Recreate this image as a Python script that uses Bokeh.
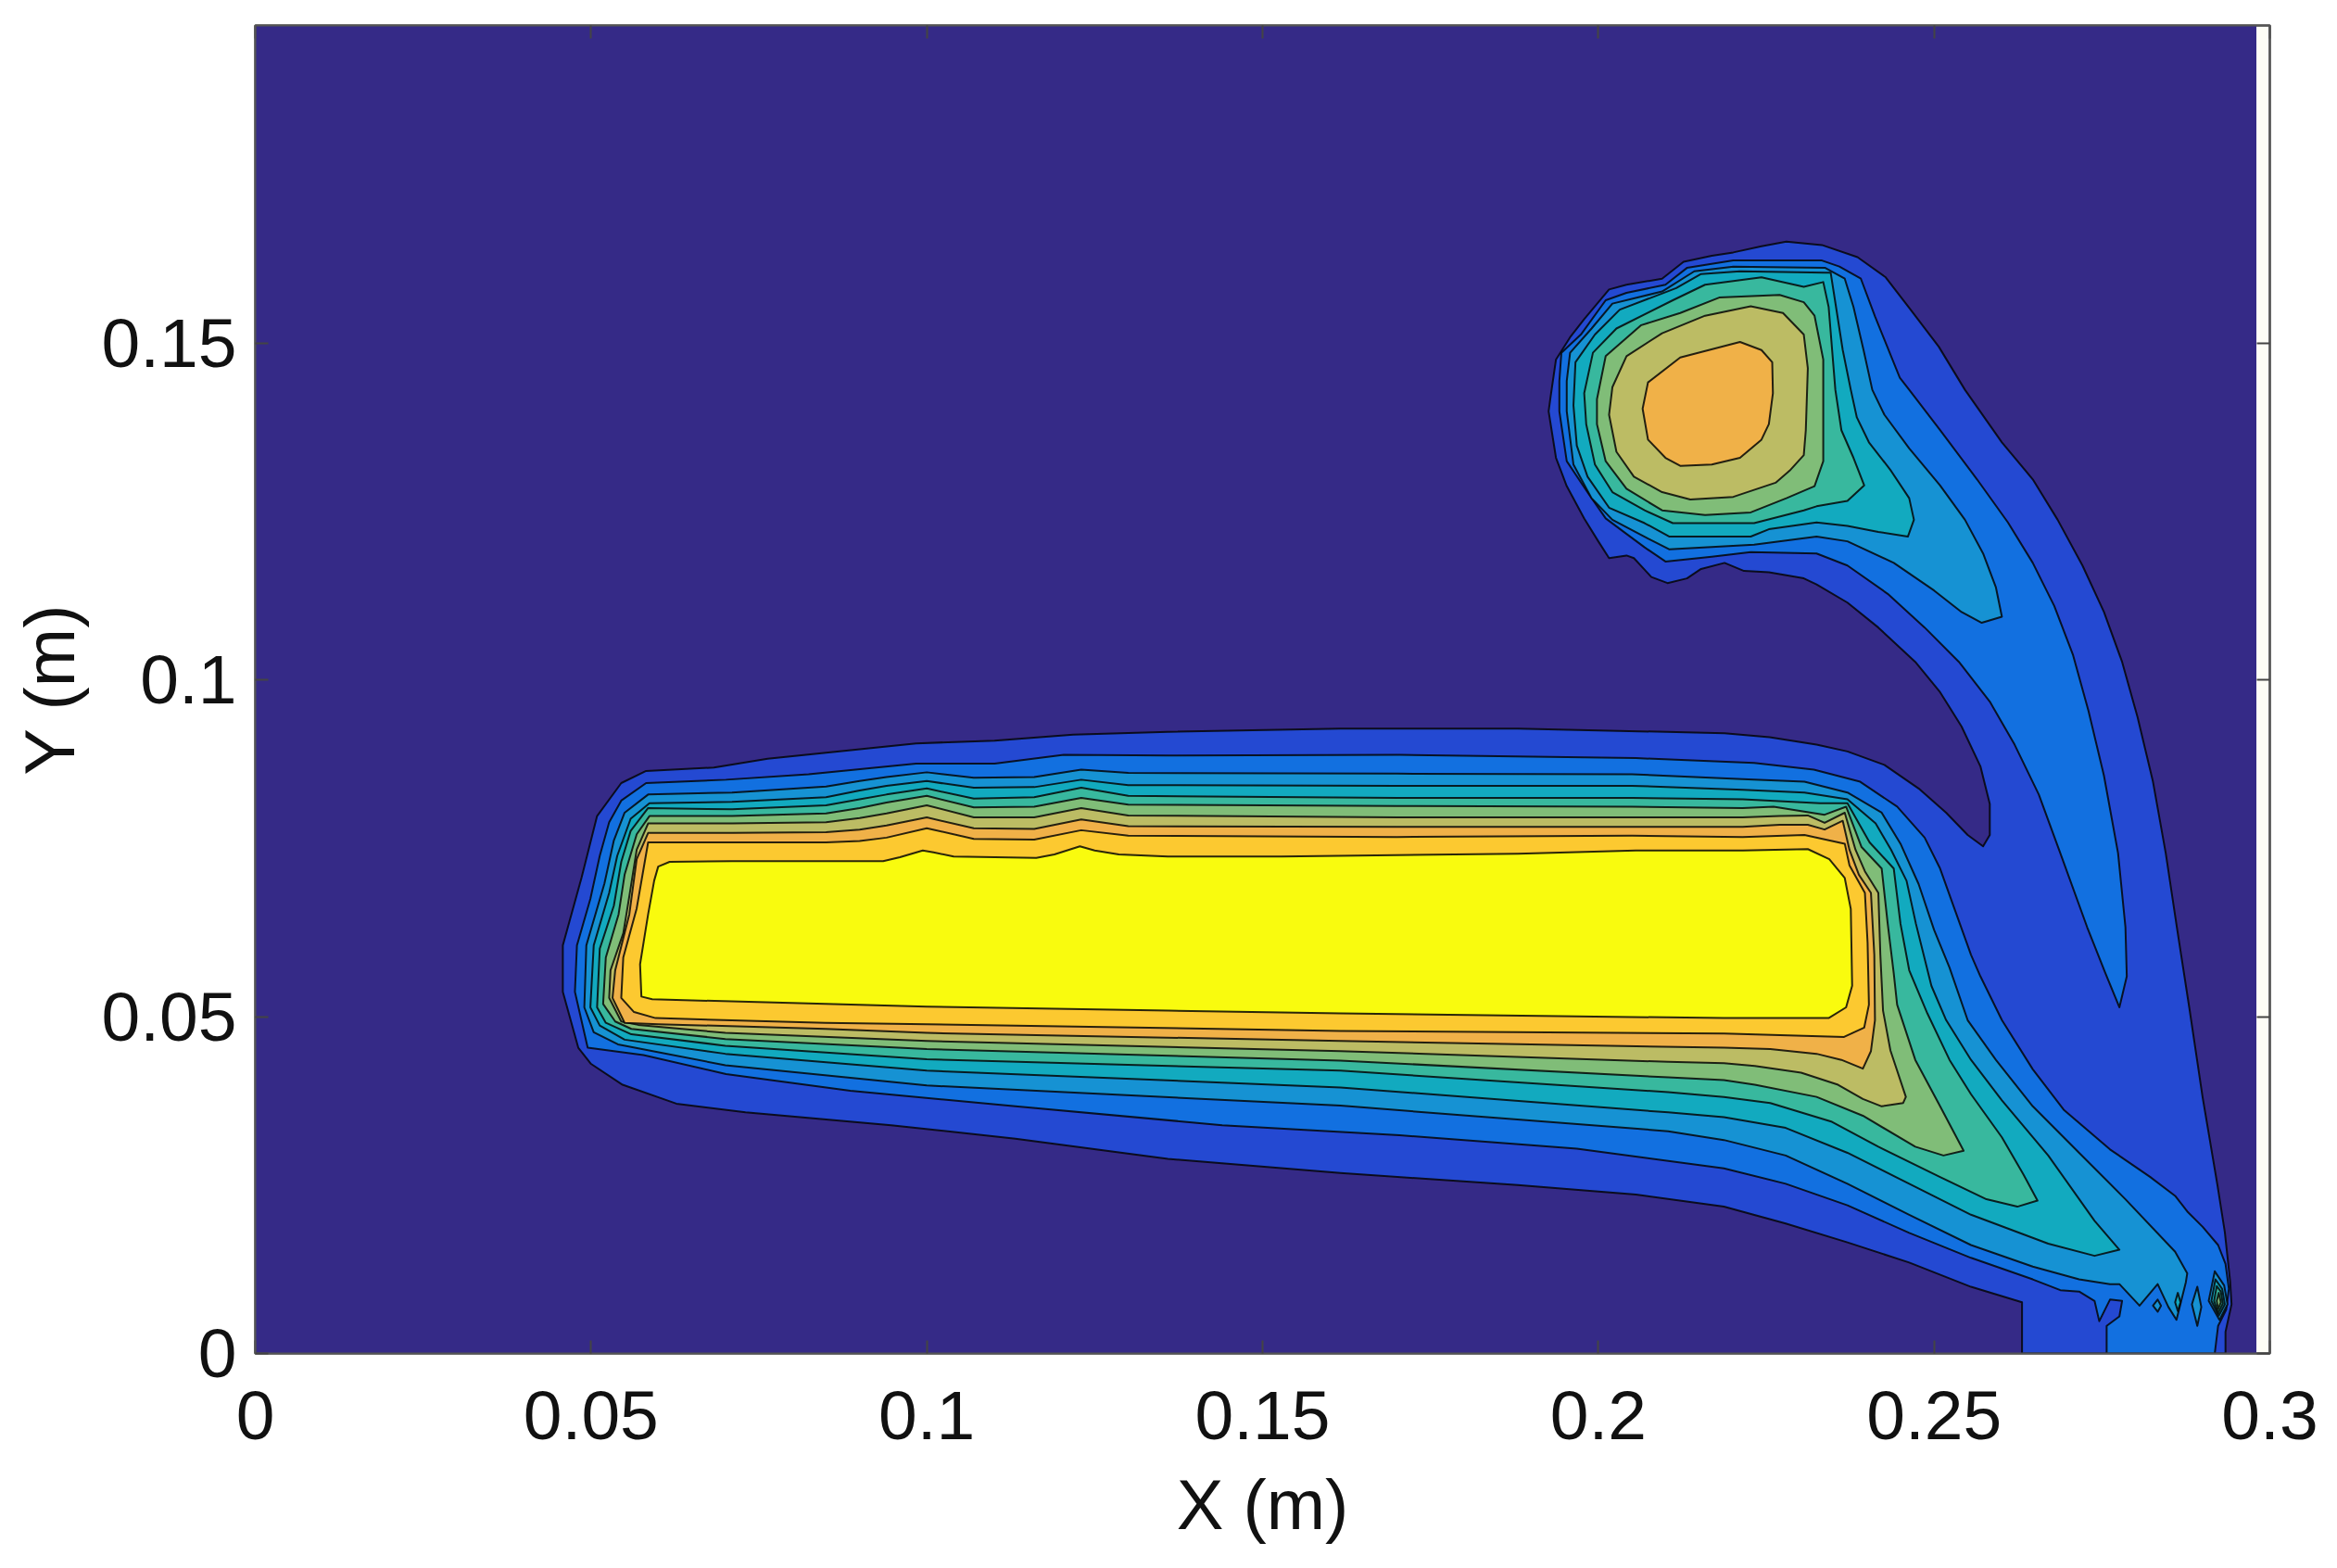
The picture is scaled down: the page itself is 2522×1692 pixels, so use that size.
from bokeh.plotting import figure
from bokeh.models import LinearAxis, FixedTicker, ColumnDataSource, Range1d
from bokeh.embed import file_html
from bokeh.resources import INLINE

# Contours in mm (x, y)
c1 = [(263.1,0),(263.1,7.6),(255.5,9.9),(246.3,13.5),(237.1,16.5),(227.9,19.3),(218.7,21.8),(205.6,23.6),(188,25),(161.6,26.8),(135.9,28.9),(113.2,31.9),(94.7,33.9),(73,35.8),(62.7,37.1),(54.7,39.9),(50,43),(48.1,45.4),(45.8,53.7),(45.8,60.6),(48.6,70.7),(50.9,79.8),(54.5,84.7),(58.2,86.5),(68.3,87),(76.3,88.3),(98.4,90.6),(110.1,91),(121.8,91.9),(135.9,92.3),(161.6,92.8),(188,92.8),(218.8,92.1),(225.5,91.5),(232.5,90.4),(237.1,89.4),(242.6,87.4),(247.7,83.9),(251.8,80.3),(255,77),(257.3,75.3),(258.3,77),(258.3,81.6),(256.9,87.2),(254.1,93.1),(250.9,98.2),(247.2,102.7),(241.7,107.8),(237.1,111.5),(232.5,114.2),(230.6,115.1),(225.4,116),(221.7,116.2),(218.8,117.4),(215.3,116.5),(213.2,115.1),(210.3,114.4),(207.9,115.3),(205.3,118.1),(204.2,118.5),(201.6,118.1),(200,120.6),(197.9,124),(195.3,128.8),(193.7,133),(192.6,139.9),(192.9,142.1),(193.7,147.6),(195.8,150.9),(197.9,153.6),(201.6,158),(204.2,158.7),(209.5,159.6),(212.7,162.1),(216.9,163),(220.1,163.5),(224.3,164.4),(228,165.1),(233.3,164.6),(238.6,162.8),(242.8,159.8),(246.5,155),(250.7,149.5),(254.6,143.1),(260.1,135.3),(264.7,129.8),(268.4,123.8),(272.1,117),(275.3,110.1),(278,102.7),(280.3,94.5),(282.6,84.9),(284.5,74.3),(286.2,63),(288,51.4),(290,38),(292.2,25),(293.3,18),(294.1,10.6),(294.3,7.3),(293.4,3.2),(293.4,0)]

c2_bar = [(275.7,0),(275.7,4.1),(277.6,5.5),(278,7.8),(276.2,8),(274.6,4.8),(273.9,7.8),(271.6,9.2),(268.8,9.4),(264.7,11),(255.5,14.2),(246.3,17.9),(237.1,22),(227.9,25.2),(218.7,27.5),(196.8,30.4),(170.4,32.4),(144,33.9),(113.2,36.7),(88.6,39),(70.1,41.5),(57.8,44.3),(49.5,45.4),(47.6,53.7),(47.9,60.6),(49.9,67.5),(51.3,73.9),(52.7,78.9),(54.5,82.1),(58.2,84.7),(70.1,85.2),(82.4,86),(98.4,87.6),(110.1,87.6),(120.4,88.9),(135.9,88.8),(170.4,88.9),(205.6,88.4),(223.2,87.7),(232.1,86.7),(239,84.9),(244.5,81.2),(248.6,76.6),(250.9,72),(253.2,65.6),(255.5,59.2),(256.9,56),(260.1,49.5),(264.7,42.2),(269.3,36.2),(276.2,30.3),(282.2,26.2),(285.9,23.4),(287.7,21.1),(290,18.8),(292.3,16.1),(293.4,13.3),(293.9,9.6),(293.5,6.5),(292.3,4.1),(291.8,0)]
c2_blob = [(239.1,159.6),(241.2,154),(244.9,144.9),(246.3,143.1),(250.9,137.1),(256.4,129.8),(261,123.4),(264.7,117.4),(267.9,111),(270.7,103.7),(273,95.4),(275.3,85.8),(277.4,74.3),(278.5,63.3),(278.7,56),(277.6,51.4),(275.5,56.5),(272.8,63.3),(268.8,74.3),(265.6,83),(262,90.4),(258.3,96.8),(253.7,102.7),(248.6,107.8),(243.1,112.8),(237.1,117),(232.5,118.8),(222.7,119),(216.9,118.3),(210,117.6),(206.9,119.7),(204.2,121.7),(201.1,124),(198.4,127.9),(195.3,132.5),(194.2,139.9),(194.2,144.4),(194.5,148.6),(197.4,151.3),(201.1,156.4),(204.2,157.5),(210,158.7),(213.2,161.2),(220.1,162.3),(233.3,162.3),(235.9,161.4)]

c3_bar = [(58.5,83),(71,83.3),(85,84.2),(90,85),(94,85.6),(100,86.3),(107,85.5),(116,85.6),(123,86.7),(130,86.2),(170,86.1),(205,86),(221.5,85.3),(230.7,84.9),(237.1,83.3),(242.2,80.3),(245,75.7),(247.7,69.7),(250,62.9),(252.3,57.3),(255,49.5),(259.2,43.6),(264.7,36.7),(271.6,29.8),(278.5,22.9),(285.9,15.1),(287.7,11.9),(287.5,10.6),(286.1,5),(284.9,6.9),(283.3,10.3),(280.6,7.1),(277.6,10.3),(276.2,10.3),(271.6,11),(264.7,12.9),(255.5,16.1),(246.3,20.6),(237.1,25.2),(227.9,29.4),(218.7,31.7),(210.4,33),(161.6,36.8),(100,39.8),(70,42.8),(54,45.9),(50.4,47.7),(49,51.4),(49.3,60.6),(52,69.8),(53.4,76.2),(55,80.3)]
c3_blob = [(236.7,159.6),(238,155.4),(239.5,149),(240.8,143.1),(242.6,139.4),(246.3,134.4),(250.9,128.9),(254.6,123.8),(257.3,118.8),(259.2,113.8),(260.1,109.4),(257.1,108.5),(254.1,110.1),(250,113.3),(244,117.4),(237.1,120.6),(232.5,121.3),(223.2,120.1),(210.6,119.4),(207.4,121),(202.1,123.8),(199,127),(196.3,132),(195.3,139.9),(195.3,144.4),(195.8,148.6),(199,152.2),(202.1,155.9),(209.5,157.7),(214.3,160.7),(220.1,161.4),(233.8,161.2)]
c3_eye = [(290.9,7.8),(291.8,12.2),(293.2,10.1),(293.7,7.3),(292.5,5)]
c3_lens_a = [(288.4,7.3),(289.2,9.9),(289.8,6.9),(289.2,4.1)]
c3_lens_b = [(282.6,7.1),(283.3,8),(283.8,7.1),(283.3,6.2)]

c4_bar = [(58.7,81.7),(71,81.9),(85,82.6),(90,83.6),(94,84.3),(100,85),(107,84),(116,84.1),(123,85.2),(130,84.4),(170,84.3),(205,84.3),(221.5,83.7),(230.7,83.3),(237.1,82.3),(241.3,78.7),(243.6,74.8),(245.9,70.2),(247.3,63.8),(249.6,54.6),(251.8,49.5),(255.5,43.6),(260.1,37.6),(267,29.4),(273.9,19.7),(277.6,15.4),(273.9,14.5),(267,16.3),(255.5,20.6),(246.3,25.2),(237.1,29.8),(227.9,33.5),(218.7,35.1),(210.4,35.8),(161.6,39.5),(100,42),(70,44.5),(55,46.6),(51.3,48.7),(49.9,51.4),(50.4,60.6),(52.7,68.4),(53.9,73.9),(55.9,79.4)]
c4_blob = [(234.6,160.5),(235.4,155.4),(236.4,149),(237.6,143.1),(238.5,139),(240.3,135.3),(243.5,131.2),(246.3,127),(247,123.8),(246.1,121.3),(241.7,122),(237.1,122.9),(232.5,123.4),(225.4,122.4),(222.7,121.3),(210.6,121.3),(206.9,123.3),(201.6,125.6),(198.4,130.2),(196.8,134.8),(196.3,140.8),(196.6,147.2),(199.5,151.3),(203.2,155),(211.6,158.2),(215.3,160.3),(221.1,160.7),(233.8,160.5)]
c4_eye = [(291.3,7.8),(291.9,11),(292.9,9.6),(293.3,7.3),(292.4,5.6)]
c4_lens = [(285.9,7.6),(286.3,9),(286.7,7.6),(286.3,6.3)]

c5_bar = [(58.5,81),(71,80.8),(85,81.4),(90,82.3),(94,83),(100,83.9),(107,82.4),(116,82.6),(123,84),(130,82.8),(170,82.5),(205,82.5),(221.5,82.3),(233,81.7),(237.1,81.7),(240.4,75.9),(244,72),(245,63.8),(246.3,56.9),(249,50.5),(252.3,43.6),(255.5,38.5),(260.1,32.1),(263.3,26.6),(265.4,22.7),(262.4,21.8),(257.8,22.9),(250.9,26.2),(241.7,30.7),(234.8,34.4),(225.6,37.2),(218.7,38.1),(210.4,38.8),(161.6,42),(100,43.7),(70,45.7),(56,47.4),(52.2,49.1),(50.9,51.4),(51.3,60.1),(53.4,66.5),(54.5,73),(55.9,77.6)]
c5_blob = [(239.6,128.9),(237.1,126.6),(232.5,125.8),(230.6,125.2),(223.2,123.3),(211.1,123.3),(206.9,125.2),(202.1,127.9),(199.5,132),(198.2,138),(197.9,142.6),(199.2,148.6),(202.7,152.2),(211.1,156.4),(215.9,158.7),(224.3,159.8),(230.6,158.4),(233.5,159.1),(234.3,155.4),(235.3,143.1),(236.2,137.1),(238,133)]
c5_eye = [(291.7,7.8),(292.1,10),(292.7,9.2),(293,7.4),(292.3,6)]

c6_bar = [(58.7,79.8),(71,79.8),(85,80.2),(90,81),(94,81.8),(100,82.8),(107,81.1),(116,81.2),(123,82.5),(130,81.5),(170,81.3),(205,81.2),(221.5,81),(226.1,81.2),(233.7,80),(236.9,81.2),(239.2,75.2),(242.2,72),(243.1,63.8),(244,56.4),(244.5,51.8),(247.2,43.6),(250.9,36.7),(254.4,30.1),(251.4,29.4),(247.2,30.7),(239.4,35.3),(232.5,38.1),(223.3,39.9),(218.7,40.6),(210.4,41),(161.6,43.5),(100,45.2),(70,46.7),(56,48.2),(53.6,49.3),(51.8,51.9),(52.2,58.8),(54.1,65.2),(55,71.1),(56.8,77.1)]
c6_blob = [(233.5,132.5),(232.2,128.8),(228,127),(222.7,124.9),(215.9,124.5),(209.5,125.2),(204.2,128.4),(201.1,132.5),(199.8,138),(199.8,141.7),(201.1,148.1),(206.4,152.7),(212.2,154.5),(218,156.8),(227,157.2),(230.6,156.1),(232.2,154.1),(233.5,147.6)]
c6_eye = [(292.1,7.8),(292.4,9),(292.7,7.6),(292.3,6.6)]

c7_bar = [(58.5,78.7),(71,78.7),(85,78.9),(90,79.5),(94,80.2),(100,81.4),(107,79.6),(116,79.6),(123,81),(130,79.9),(170,79.6),(205,79.6),(221.5,79.6),(227,79.8),(231.2,79.9),(233.7,78.8),(236.7,80.3),(238.3,74.8),(239.7,71.6),(241.7,68.4),(242,59.2),(242.4,50.9),(243.5,45),(245.8,38.1),(245.4,37.2),(242.2,36.7),(239.4,37.8),(235.7,39.9),(230.2,41.7),(223.3,42.7),(218.7,43.1),(210.4,43.3),(161.6,44.9),(100,46.4),(70,47.6),(57,48.8),(54.5,49.3),(52.7,52.8),(52.9,56.9),(54.8,62.4),(55.7,67.9),(56.8,74.8)]
c7_blob = [(230.6,133.4),(228.5,131.1),(226.4,129.3),(220.1,127.2),(213.7,126.8),(209.5,127.9),(205.3,130.2),(202.7,133.9),(201.6,139.4),(202.1,143.5),(204.2,148.1),(209.5,151.5),(215.9,154.1),(222.7,155.5),(227.5,154.5),(230.6,151.3),(231.2,146.3),(230.9,137.1)]

c8_bar = [(58.5,77.3),(71,77.3),(85,77.4),(90,77.8),(94,78.4),(100,79.6),(107,78),(116,77.9),(123,79.3),(130,78.3),(170,78.2),(205,78.2),(221.5,78.2),(227,78.5),(231.2,78.5),(233.7,77.8),(236.4,79.1),(237.4,74.8),(238.8,71.1),(240.6,68.4),(241.1,59.2),(241.2,49.5),(240.6,44.9),(239.4,42.3),(236.2,43.6),(232.5,44.5),(225.6,45.2),(218.7,45.4),(161.6,46.4),(100,47.6),(84.9,48.2),(60,48.9),(55,49.1),(53.2,52.8),(53.6,56.9),(55.7,65.2),(56.8,73.4)]
c8_blob = [(225.4,138),(224.3,135.7),(221.1,133),(216.9,132),(212.2,131.8),(210,133),(207.4,135.7),(206.6,140.3),(207.4,144.2),(212.2,147.9),(221.1,150.2),(224.3,149),(225.9,147.2),(226,142.6)]

c9_bar = [(58.5,75.9),(71,75.9),(85,75.9),(90,76.1),(94,76.6),(100,78),(107,76.4),(116,76.3),(123,77.7),(130,76.9),(170,76.7),(205,76.9),(221.5,76.7),(230.7,77),(236.7,75.7),(237.4,72.5),(239.7,68.4),(240.1,61),(240.3,51.8),(239.6,48.4),(236.6,47),(218.7,47.5),(161.6,47.9),(100,48.9),(84.9,49.1),(59.6,49.8),(56.4,50.7),(54.5,52.8),(54.8,58.8),(56.8,66.1)]

c10_bar = [(59.4,70.2),(60,72.3),(61.7,73),(71,73.1),(93.5,73.1),(96,73.7),(99.4,74.7),(101,74.4),(104,73.8),(116.3,73.6),(119,74.1),(122.8,75.3),(125,74.7),(128.6,74.1),(135.9,73.8),(152.8,73.8),(188,74.2),(205.6,74.7),(221.5,74.7),(231.2,74.9),(234.4,73.4),(236.7,70.6),(237.6,66),(237.8,54.6),(236.9,51.4),(234.3,49.8),(218.7,49.8),(161.6,50.5),(135.9,50.9),(100,51.5),(84.9,51.9),(59.1,52.6),(57.5,53),(57.3,57.8),(58.5,65.2)]

level_colors = ["#352a87","#2449d2","#1270e0","#1692d3","#12aabf","#38b89e","#80bd78","#bcbc64","#f0b148","#fcc930","#f9fb0e"]
x_ticks = [0,0.05,0.1,0.15,0.2,0.25,0.3]
x_tick_labels = ["0","0.05","0.1","0.15","0.2","0.25","0.3"]
y_ticks = [0,0.05,0.1,0.15]
y_tick_labels = ["0","0.05","0.1","0.15"]
data_x_max = 0.298
data_y_max = 0.1972

levels = [
    (1,[c1]),
    (2,[c2_bar,c2_blob]),
    (3,[c3_bar,c3_blob,c3_eye,c3_lens_a,c3_lens_b]),
    (4,[c4_bar,c4_blob,c4_eye,c4_lens]),
    (5,[c5_bar,c5_blob,c5_eye]),
    (6,[c6_bar,c6_blob,c6_eye]),
    (7,[c7_bar,c7_blob]),
    (8,[c8_bar,c8_blob]),
    (9,[c9_bar]),
    (10,[c10_bar]),
]

xs,ys,cols = [],[],[]
for lv,polys in levels:
    for poly in polys:
        xs.append([q[0]/1000 for q in poly])
        ys.append([q[1]/1000 for q in poly])
        cols.append(level_colors[lv])

FONT = "Liberation Sans"
p = figure(width=2510,height=1684,output_backend="svg",toolbar_location=None,
           x_range=Range1d(0,0.3),y_range=Range1d(0,data_y_max),
           min_border_left=275,min_border_right=61,min_border_top=27,min_border_bottom=224,
           x_axis_label="X (m)",y_axis_label="Y (m)")
p.background_fill_color = "#fefef6"
p.border_fill_color = "white"
p.grid.visible = False
p.outline_line_color = "#808080"
p.outline_line_width = 3

p.quad(left=0,right=data_x_max,bottom=0,top=data_y_max,fill_color=level_colors[0],line_color=None)
p.patches(xs="xs",ys="ys",fill_color="cols",line_color="#050505",line_width=2,line_alpha=0.85,line_join="round",
          source=ColumnDataSource(dict(xs=xs,ys=ys,cols=cols)))

def style(ax,ticks,labels,show):
    ax.ticker = FixedTicker(ticks=ticks)
    ax.major_label_overrides = dict(zip(ticks,labels))
    ax.axis_line_color = "#555555"
    ax.axis_line_width = 2
    ax.major_tick_line_color = "#444444"
    ax.major_tick_line_width = 2
    ax.major_tick_in = 14
    ax.major_tick_out = 0
    ax.minor_tick_line_color = None
    if show:
        ax.major_label_text_font = FONT
        ax.major_label_text_font_size = "75px"
        ax.major_label_text_color = "#111111"
        ax.axis_label_text_font = FONT
        ax.axis_label_text_font_size = "76px"
        ax.axis_label_text_font_style = "normal"
        ax.axis_label_text_color = "#111111"
    else:
        ax.major_label_text_font_size = "0px"
        ax.major_label_standoff = 0

style(p.xaxis[0],x_ticks,x_tick_labels,True)
style(p.yaxis[0],y_ticks,y_tick_labels,True)
p.xaxis[0].major_label_standoff = 41
p.yaxis[0].major_label_standoff = 20
p.xaxis[0].axis_label_standoff = 25
p.yaxis[0].axis_label_standoff = 11

top = LinearAxis(); style(top,x_ticks,[""]*len(x_ticks),False); p.add_layout(top,"above")
right = LinearAxis(); style(right,y_ticks,[""]*len(y_ticks),False); p.add_layout(right,"right")

open("out.html","w").write(file_html(p,INLINE))
